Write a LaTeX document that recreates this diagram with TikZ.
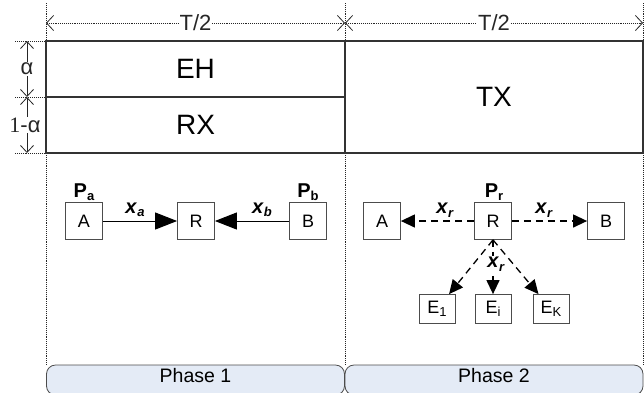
\documentclass[tikz,border=0pt]{standalone}
\usepackage{fontspec}
\setmainfont{Liberation Sans}
\newfontfamily\numfont{Liberation Serif}
\usetikzlibrary{arrows.meta}
\definecolor{phasefill}{RGB}{228,235,246}
\newcommand{\subx}[1]{\raisebox{-3.5pt}{\fontsize{13}{13}\selectfont #1}}

\begin{document}
\begin{tikzpicture}[x=1pt,y=-1pt,
    slot/.style={draw=black!80, line width=2pt, fill=white, inner sep=0pt, font=\fontsize{28}{28}\selectfont},
    guide/.style={densely dotted, line width=0.9pt, black!85},
    dimarrow/.style={guide, {Straight Barb[length=7pt,width=15pt,line width=0.8pt]}-{Straight Barb[length=7pt,width=15pt,line width=0.8pt]}},
    dimtext/.style={fill=white, inner sep=1pt, font=\fontsize{22}{22}\selectfont},
    unit/.style={draw=black!70, line width=0.8pt, fill=white, minimum width=37pt, minimum height=37pt, inner sep=0pt, font=\fontsize{18}{18}\selectfont},
    eunit/.style={unit, minimum width=36pt, minimum height=29pt},
    solidlink/.style={line width=1pt, -{Triangle[length=22pt,width=17pt]}},
    dashlink/.style={line width=1.3pt, dash pattern=on 7pt off 5pt, -{Triangle[length=14pt,width=13pt]}},
    tag/.style={inner sep=1pt, font=\fontsize{20}{20}\selectfont\bfseries},
    phase/.style={draw=black!70, line width=0.8pt, fill=phasefill, rounded corners=9pt, minimum width=298pt, minimum height=30pt, text height=14pt, text depth=9pt, font=\fontsize{19.5}{20}\selectfont}]
    \useasboundingbox (0,0) rectangle (644,392);
    % Phase guides
    \draw[guide] (46,3) -- (46,365);
    \draw[guide] (345,3) -- (345,365);
    \draw[guide] (643,3) -- (643,365);
    \draw[guide] (15,41) -- (46,41);
    \draw[guide] (15,97) -- (46,97);
    \draw[guide] (15,153) -- (46,153);
    % Time split
    \coordinate (t0) at (46,23); \coordinate (t1) at (345,23); \coordinate (t2) at (643,23);
    \draw[dimarrow] (t0) -- node[dimtext] {T/2} (t1);
    \draw[dimarrow] (t1) -- node[dimtext] {T/2} (t2);
    % Alpha split
    \coordinate (al0) at (27,41); \coordinate (al1) at (27,97); \coordinate (al2) at (27,153);
    \draw[line width=0.8pt, black!85, {Straight Barb[length=7pt,width=13pt]}-{Straight Barb[length=7pt,width=13pt]}] (al0) -- node[dimtext] {α} (al1);
    \draw[line width=0.8pt, black!85, {Straight Barb[length=7pt,width=13pt]}-{Straight Barb[length=7pt,width=13pt]}] (al1) -- node[dimtext, xshift=-2pt] {{\numfont 1}-α} (al2);
    % Slots
    \node[slot, minimum width=299pt, minimum height=56pt] (eh) at (195.5,69) {EH};
    \node[slot, minimum width=299pt, minimum height=56pt] (rx) at (195.5,125) {RX};
    \node[slot, minimum width=298pt, minimum height=112pt] (tx) at (494,97) {TX};
    % Phase 1: A and B send to R
    \node[unit] (a1) at (84,221) {A};
    \node[unit] (r1) at (196,221) {R};
    \node[unit] (b1) at (308,221) {B};
    \node[tag] (pa) at (84,192) {P\subx{a}};
    \node[tag] (pb) at (308,192) {P\subx{b}};
    \draw[solidlink] (a1) -- (r1);
    \draw[solidlink] (b1) -- (r1);
    \node[tag] (xa) at (135,210) {\textit{x}\subx{\textit{a}}};
    \node[tag] (xb) at (262,210) {\textit{x}\subx{\textit{b}}};
    % Phase 2: R broadcasts
    \node[unit] (a2) at (382,221) {A};
    \node[unit] (r2) at (493,221) {R};
    \node[unit] (b2) at (606,221) {B};
    \node[tag] (pr) at (494,192) {P\subx{r}};
    \node[eunit] (e1) at (437,309) {E\subx{1}};
    \node[eunit] (ei) at (493,309) {E\subx{i}};
    \node[eunit] (ek) at (551,309) {E\subx{K}};
    \draw[dashlink] (r2) -- (a2);
    \draw[dashlink] (r2) -- (b2);
    \draw[dashlink] (r2.south) -- (e1);
    \draw[dashlink] (r2.south) -- (ei);
    \draw[dashlink] (r2.south) -- (ek);
    \node[tag] (xr1) at (445,210) {\textit{x}\subx{\textit{r}}};
    \node[tag] (xr2) at (544,210) {\textit{x}\subx{\textit{r}}};
    \node[tag, fill=white] (xr3) at (496,264) {\textit{x}\subx{\textit{r}}};
    % Phases
    \node[phase] (ph1) at (195.5,380) {Phase 1};
    \node[phase] (ph2) at (494,380) {Phase 2};
\end{tikzpicture}
\end{document}
